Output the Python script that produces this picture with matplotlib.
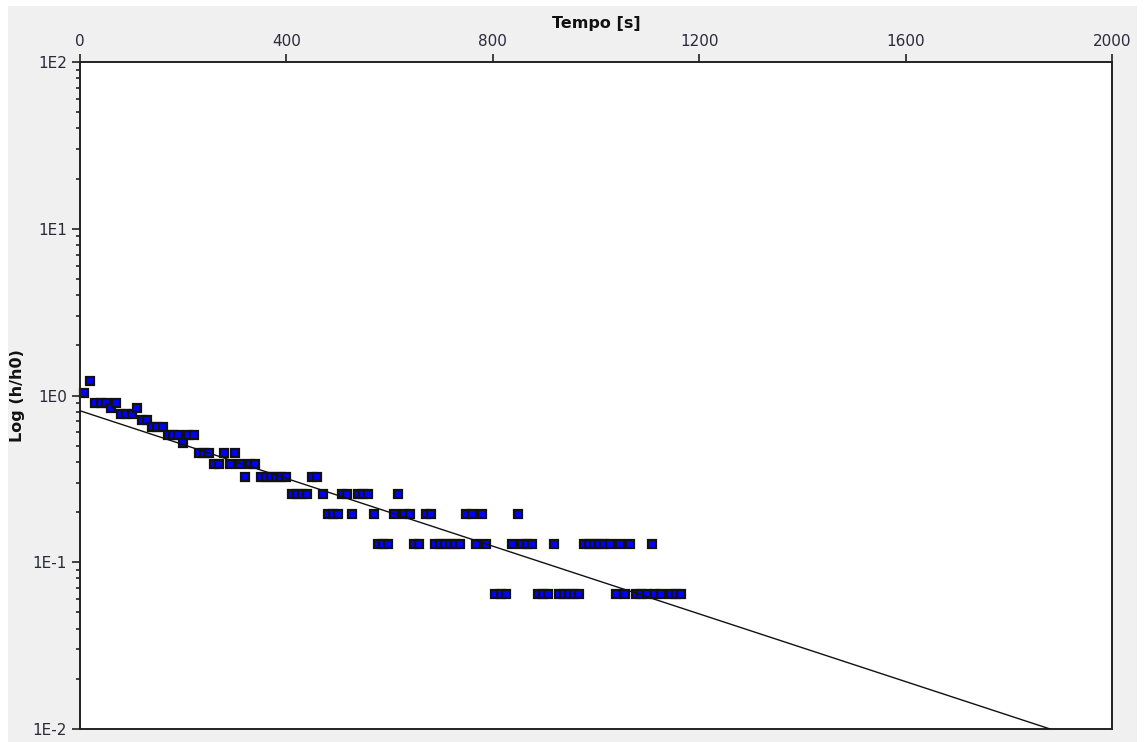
import matplotlib
matplotlib.use("Agg")
import matplotlib.pyplot as plt
from matplotlib.patches import Rectangle
from matplotlib.ticker import LogLocator, FixedLocator, FuncFormatter, NullFormatter

# Falling-head test readings: elapsed time [s] and normalised head h/h0
tempo = [8, 19, 30, 40, 50, 60, 70, 80, 90, 100, 110, 120, 130, 140, 150, 160,
         170, 180, 190, 200, 210, 220, 230, 240, 250, 260, 270, 280, 290, 300,
         310, 320, 330, 340, 350, 360, 370, 380, 390, 400, 410, 420, 430, 440,
         450, 460, 470, 480, 490, 500, 508, 518, 527, 539, 549, 558, 570, 578,
         587, 597, 608, 617, 627, 639, 648, 657, 670, 680, 688, 698, 707, 717,
         727, 737, 749, 760, 767, 779, 786, 805, 815, 826, 838, 849, 857, 866,
         876, 888, 898, 907, 919, 928, 938, 948, 958, 968, 976, 986, 996, 1006,
         1016, 1027, 1038, 1047, 1057, 1066, 1078, 1088, 1098, 1108, 1115, 1125,
         1146, 1156, 1165]
h_rel = [1.032, 1.226, 0.903, 0.903, 0.903, 0.839, 0.903, 0.774, 0.774, 0.774,
         0.839, 0.710, 0.710, 0.645, 0.645, 0.645, 0.581, 0.581, 0.581, 0.516,
         0.581, 0.581, 0.452, 0.452, 0.452, 0.387, 0.387, 0.452, 0.387, 0.452,
         0.387, 0.323, 0.387, 0.387, 0.323, 0.323, 0.323, 0.323, 0.323, 0.323,
         0.258, 0.258, 0.258, 0.258, 0.323, 0.323, 0.258, 0.194, 0.194, 0.194,
         0.258, 0.258, 0.194, 0.258, 0.258, 0.258, 0.194, 0.129, 0.129, 0.129,
         0.194, 0.258, 0.194, 0.194, 0.129, 0.129, 0.194, 0.194, 0.129, 0.129,
         0.129, 0.129, 0.129, 0.129, 0.194, 0.194, 0.129, 0.194, 0.129, 0.0645,
         0.0645, 0.0645, 0.129, 0.194, 0.129, 0.129, 0.129, 0.0645, 0.0645,
         0.0645, 0.129, 0.0645, 0.0645, 0.0645, 0.0645, 0.0645, 0.129, 0.129,
         0.129, 0.129, 0.129, 0.129, 0.0645, 0.129, 0.0645, 0.129, 0.0645,
         0.0645, 0.0645, 0.129, 0.0645, 0.0645, 0.0645, 0.0645, 0.0645]

# Fitted exponential decay (straight line on the log axis)
fit_tempo = [0, 1880]
fit_h_rel = [0.81, 0.01]

x_ticks = [0, 400, 800, 1200, 1600, 2000]
y_ticks = [1e-2, 1e-1, 1e0, 1e1, 1e2]
y_tick_labels = ["1E-2", "1E-1", "1E0", "1E1", "1E2"]

W, H = 1146, 742
fig = plt.figure(figsize=(W / 100, H / 100), dpi=100, facecolor="white")
fig.patches.append(Rectangle((8 / W, 0), (1137 - 8) / W, (H - 6) / H,
                             transform=fig.transFigure, facecolor="#f0f0f0",
                             edgecolor="none", zorder=-10))

ax = fig.add_axes([80 / W, 1 - 729 / H, (1112 - 80) / W, (729 - 62) / H])
ax.set_facecolor("white")

ax.plot(tempo, h_rel, linestyle="none", marker="s", markersize=6.3,
        markerfacecolor="#0000ff", markeredgecolor="#111111",
        markeredgewidth=1.6, zorder=2, clip_on=False)
ax.plot(fit_tempo, fit_h_rel, color="#111111", linewidth=1.0, zorder=3)

ax.set_yscale("log")
ax.set_xlim(0, 2000)
ax.set_ylim(1e-2, 1e2)

text_color = "#2a2a3a"
ax.xaxis.tick_top()
ax.xaxis.set_label_position("top")
ax.xaxis.set_major_locator(FixedLocator(x_ticks))
ax.set_xticklabels([str(v) for v in x_ticks])
ax.tick_params(axis="x", which="major", direction="out", length=6, width=1.2,
               pad=3.5, labelsize=11, labelcolor=text_color, color="#222222")
ax.tick_params(axis="x", which="minor", length=0)

ax.yaxis.set_major_locator(FixedLocator(y_ticks))
ax.yaxis.set_major_formatter(FuncFormatter(
    lambda v, pos: y_tick_labels[y_ticks.index(min(y_ticks, key=lambda t: abs(t - v)))]))
ax.yaxis.set_minor_locator(LogLocator(base=10, subs=range(2, 10)))
ax.yaxis.set_minor_formatter(NullFormatter())
ax.tick_params(axis="y", which="major", direction="out", length=6, width=1.2,
               pad=3.5, labelsize=11, labelcolor=text_color, color="#222222")
ax.tick_params(axis="y", which="minor", direction="out", length=3, width=1.2,
               color="#222222")

for side in ("left", "right", "top", "bottom"):
    ax.spines[side].set_linewidth(1.4)
    ax.spines[side].set_color("#222222")

ax.set_xlabel("Tempo [s]", fontsize=11.5, fontweight="bold", color="#111111",
              labelpad=4)
ax.set_ylabel("Log (h/h0)", fontsize=11.5, fontweight="bold", color="#111111",
              labelpad=5)

fig.savefig("out.png", dpi=100, facecolor=fig.get_facecolor())
